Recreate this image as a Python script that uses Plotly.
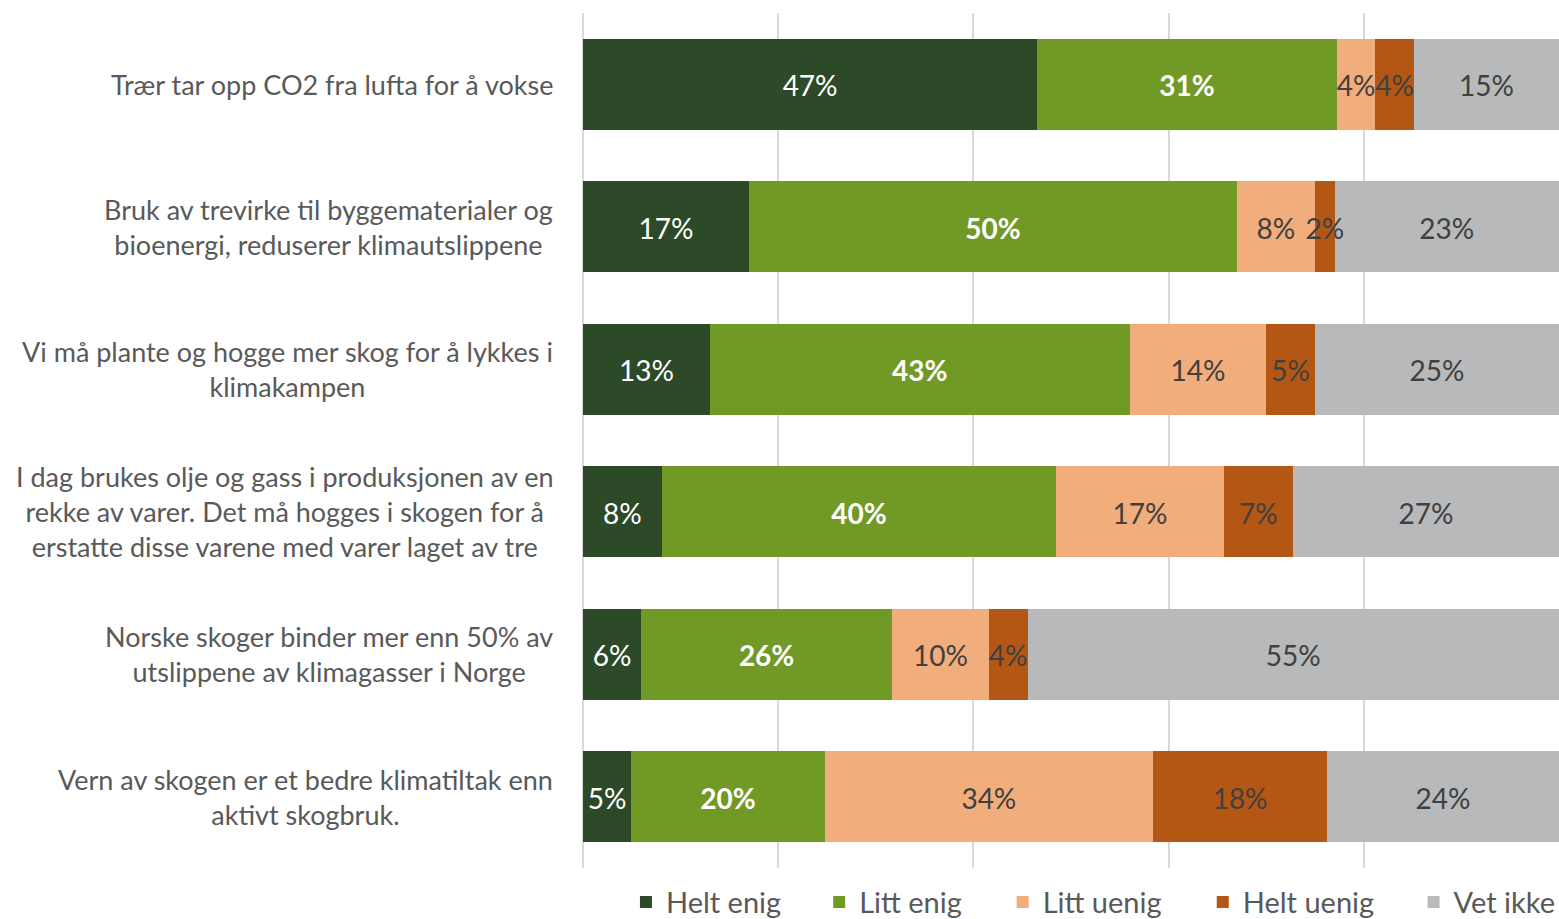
import plotly.graph_objects as go

# Survey statements (top to bottom)
statements = [
    "Trær tar opp CO2 fra lufta for å vokse",
    "Bruk av trevirke til byggematerialer og<br>bioenergi, reduserer klimautslippene",
    "Vi må plante og hogge mer skog for å lykkes i<br>klimakampen",
    "I dag brukes olje og gass i produksjonen av en<br>rekke av varer. Det må hogges i skogen for å<br>erstatte disse varene med varer laget av tre",
    "Norske skoger binder mer enn 50% av<br>utslippene av klimagasser i Norge",
    "Vern av skogen er et bedre klimatiltak enn<br>aktivt skogbruk.",
]

helt_enig = [47, 17, 13, 8, 6, 5]
litt_enig = [31, 50, 43, 40, 26, 20]
litt_uenig = [4, 8, 14, 17, 10, 34]
helt_uenig = [4, 2, 5, 7, 4, 18]
vet_ikke = [15, 23, 25, 27, 55, 24]

series = [
    ("Helt enig", helt_enig, "#2C4A28", "white", False),
    ("Litt enig", litt_enig, "#709A25", "white", True),
    ("Litt uenig", litt_uenig, "#F1AD7B", "#404040", False),
    ("Helt uenig", helt_uenig, "#B45714", "#404040", False),
    ("Vet ikke", vet_ikke, "#B8B9BA", "#404040", False),
]

FONT = "Lato"
# one legend per series so the entries can be spaced like Excel does
legend_x = [0.044, 0.242, 0.430, 0.635, 0.851]

fig = go.Figure()
for i, (name, vals, color, tcolor, bold) in enumerate(series):
    fig.add_trace(go.Bar(
        y=statements, x=vals, name=name, orientation="h",
        marker=dict(color=color, line=dict(width=0)),
        hoverinfo="skip",
        legend="legend" if i == 0 else f"legend{i + 1}",
    ))

# data labels drawn on top of all bars (Excel lets them overlap neighbours)
# on a numeric twin of the category axis, nudged a touch down to sit centred
n = len(statements)
label_y = [j + 0.035 for j in range(n)]
totals = [sum(v) for v in zip(*[s[1] for s in series])]
start = [0.0] * n
for name, vals, color, tcolor, bold in series:
    mids = []
    for j, v in enumerate(vals):
        w = v * 100 / totals[j]
        mids.append(start[j] + w / 2)
        start[j] += w
    txt = [f"<b>{v}%</b>" if bold else f"{v}%" for v in vals]
    fig.add_trace(go.Scatter(
        x=mids, y=label_y, yaxis="y2", mode="text", text=txt,
        textposition="middle center",
        textfont=dict(color=tcolor, size=28, family=FONT),
        showlegend=False, hoverinfo="skip", cliponaxis=False,
    ))

# category labels, centred per line like the original
for s in statements:
    fig.add_annotation(
        x=0, xref="paper", y=s, yref="y", xshift=-28,
        xanchor="right", yanchor="middle", align="center",
        text=s, showarrow=False,
        font=dict(size=27, color="#595959", family=FONT),
    )

fig.update_layout(
    width=1559, height=919, showlegend=True,
    barmode="stack", barnorm="percent", bargap=0.36,
    plot_bgcolor="white", paper_bgcolor="rgba(0,0,0,0)",
    margin=dict(l=583, r=0, t=13, b=51, autoexpand=False),
    font=dict(family=FONT, color="#595959"),
    yaxis2=dict(overlaying="y", range=[n - 0.5, -0.5], visible=False),
)
for i, lx in enumerate(legend_x):
    key = "legend" if i == 0 else f"legend{i + 1}"
    fig.update_layout({key: dict(
        orientation="h", x=lx, xanchor="left", y=-0.04, yanchor="middle",
        font=dict(size=29, color="#595959", family=FONT),
        bgcolor="rgba(0,0,0,0)", itemwidth=30, visible=True,
    )})

fig.update_xaxes(
    range=[0, 100], dtick=20, showgrid=True, gridcolor="#D9D9D9", gridwidth=2,
    showticklabels=False, zeroline=True, zerolinecolor="#D9D9D9", zerolinewidth=2,
    showline=False,
)
fig.update_yaxes(autorange="reversed", showticklabels=False, showgrid=False, selector=dict(overlaying=None))

# drop the default page margin so the figure sits at the window's corner
fig.write_html(
    "out.html",
    config={"displayModeBar": False},
    post_script="document.body.style.margin='0';document.body.style.overflow='hidden';",
)
